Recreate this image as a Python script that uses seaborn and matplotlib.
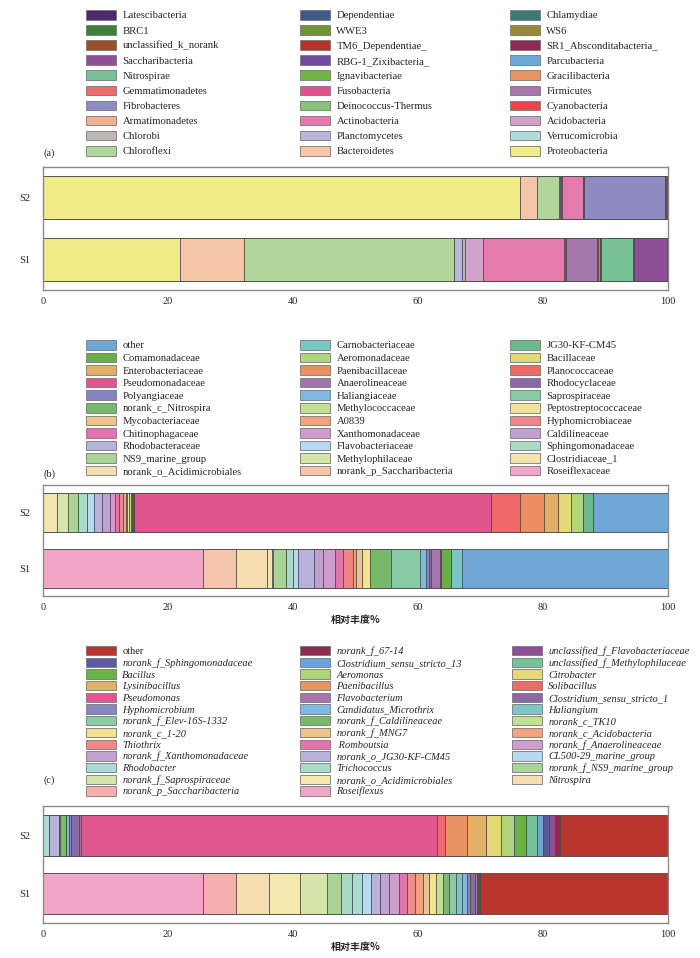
import numpy as np
import pandas as pd
import matplotlib.pyplot as plt
import seaborn as sns
from matplotlib.patches import Patch

W, H = 700, 958
SAMPLES = ["S2", "S1"]
EDGE = "#4a4a4a"

# ---- (a) phylum level, listed in stacking order (left -> right)
PHYLA = ["Proteobacteria", "Bacteroidetes", "Chloroflexi", "Verrucomicrobia", "Planctomycetes",
         "Chlorobi", "Acidobacteria", "Actinobacteria", "Armatimonadetes", "Cyanobacteria",
         "Deinococcus-Thermus", "Fibrobacteres", "Firmicutes", "Fusobacteria", "Gemmatimonadetes",
         "Gracilibacteria", "Ignavibacteriae", "Nitrospirae", "Parcubacteria", "RBG-1_Zixibacteria_",
         "Saccharibacteria", "SR1_Absconditabacteria_", "TM6_Dependentiae_", "unclassified_k_norank",
         "WS6", "WWE3", "BRC1", "Chlamydiae", "Dependentiae", "Latescibacteria"]
PHYLA_COLORS = ["#f0ec88", "#f6c6ab", "#b0d69c", "#aedcd9", "#bbb5dc",
                "#bdb5b3", "#d1a3cc", "#e57bac", "#f3b08f", "#e4474d",
                "#88c277", "#8d8cc2", "#a776ad", "#e3528f", "#ef6b6e",
                "#eb9462", "#72b544", "#78c29a", "#6aa9d8", "#6e4c9a",
                "#8e4f97", "#8c2a54", "#b53329", "#9a4f2c",
                "#978a36", "#6e9436", "#3f7f3c", "#3d7a72", "#3d5a8a", "#4b2a6e"]
PHYLA_S1 = [21.9, 10.2, 33.6, 0.1, 1.2, 0.6, 2.8, 13.0, 0.1, 0.1,
            0.05, 0.05, 5.0, 0.05, 0.4, 0.05, 0.05, 5.2, 0.03, 0.03,
            5.3, 0.02, 0.02, 0.02, 0.02, 0.02, 0.02, 0.02, 0.02, 0.02]
PHYLA_S2 = [76.3, 2.7, 3.6, 0.1, 0.15, 0.05, 0.2, 3.3, 0.05, 0.05,
            0.05, 13.0, 0.05, 0.05, 0.15, 0.02, 0.02, 0.02, 0.02, 0.02,
            0.02, 0.02, 0.05, 0.02, 0.02, 0.02, 0.02, 0.02, 0.02, 0.02]

# ---- (b) family level
FAMILIES = ["Roseiflexaceae", "norank_p_Saccharibacteria", "norank_o_Acidimicrobiales", "Clostridiaceae_1",
            "Methylophilaceae", "NS9_marine_group", "Sphingomonadaceae", "Flavobacteriaceae",
            "Rhodobacteraceae", "Caldilineaceae", "Xanthomonadaceae", "Chitinophagaceae",
            "Hyphomicrobiaceae", "A0839", "Mycobacteriaceae", "Peptostreptococcaceae",
            "Methylococcaceae", "norank_c_Nitrospira", "Saprospiraceae", "Haliangiaceae",
            "Polyangiaceae", "Rhodocyclaceae", "Anaerolineaceae", "Pseudomonadaceae",
            "Planococcaceae", "Paenibacillaceae", "Enterobacteriaceae", "Bacillaceae",
            "Aeromonadaceae", "Comamonadaceae", "JG30-KF-CM45", "Carnobacteriaceae", "other"]
FAMILY_COLORS = ["#f1a6c8", "#f6c5ab", "#f6deb3", "#f4e6ab",
                 "#d6e6ab", "#a9d495", "#a9dac6", "#b5daf1",
                 "#b9b3dc", "#c0a0cf", "#d09ccb", "#e674ac",
                 "#f08787", "#f3a27f", "#ebc489", "#f0e296",
                 "#c2df8f", "#77b96b", "#88c9a6", "#7fb9e0",
                 "#8585c0", "#8a68a6", "#a674ad", "#e05590",
                 "#ee6a6a", "#ec9064", "#e0b06a", "#e3d872",
                 "#b0d57a", "#6aae46", "#6cba8e", "#7cc5c5", "#6fa8d6"]
FAMILY_S1 = [25.6, 5.3, 5.0, 0.8, 0.1, 2.1, 1.1, 0.85, 2.55, 1.35, 1.95, 1.35,
             1.6, 0.45, 0.9, 1.3, 0.05, 3.3, 4.7, 1.0, 0.35, 0.35, 1.5, 0.05,
             0.02, 0.02, 0.02, 0.02, 0.02, 1.6, 0.05, 1.75, 32.9]
FAMILY_S2 = [0.02, 0.02, 0.02, 2.15, 1.85, 1.6, 1.35, 1.2, 1.2, 1.3, 0.8, 0.7,
             0.65, 0.35, 0.3, 0.3, 0.2, 0.2, 0.1, 0.08, 0.08, 0.08, 0.08, 57.0,
             4.7, 3.8, 2.3, 2.0, 1.9, 0.05, 1.55, 0.05, 12.0]

# ---- (c) genus level
GENERA = ["Roseiflexus", "norank_p_Saccharibacteria", "Nitrospira", "norank_o_Acidimicrobiales",
          "norank_f_Saprospiraceae", "norank_f_NS9_marine_group", "Trichococcus", "Rhodobacter",
          "CL500-29_marine_group", "norank_o_JG30-KF-CM45", "norank_f_Xanthomonadaceae",
          "norank_f_Anaerolineaceae", " Romboutsia", "Thiothrix", "norank_c_Acidobacteria",
          "norank_f_MNG7", "norank_c_1-20", "norank_c_TK10", "norank_f_Caldilineaceae",
          "norank_f_Elev-16S-1332", "Haliangium", "Candidatus_Microthrix", "Hyphomicrobium",
          "Clostridium_sensu_stricto_1", "Flavobacterium", "Pseudomonas", "Solibacillus",
          "Paenibacillus", "Lysinibacillus", "Citrobacter", "Aeromonas", "Bacillus",
          "unclassified_f_Methylophilaceae", "Clostridium_sensu_stricto_13",
          "norank_f_Sphingomonadaceae", "unclassified_f_Flavobacteriaceae", "norank_f_67-14", "other"]
GENUS_COLORS = ["#f1a6c8", "#f5b0ad", "#f6deb3", "#f4eab0",
                "#d6e6ab", "#a9d495", "#a9dac6", "#a9dcd6",
                "#b5daf1", "#b9b3dc", "#c1a2d0",
                "#d09ccb", "#e674ac", "#f38a8a", "#f3a27f",
                "#ebc489", "#efe38f", "#c3df8f", "#78bb6a",
                "#8acaa7", "#7ec6c6", "#80bae2", "#8787c2",
                "#8a69a6", "#a675ad", "#e15590", "#ef6a6a",
                "#eb9264", "#e1b06a", "#e4d877", "#b0d47a", "#6ab244",
                "#75c29b", "#6ba5d7",
                "#5a5aa0", "#8d4f98", "#8e2a4f", "#b8342c"]
GENUS_S1 = [25.6, 5.3, 5.2, 5.0, 4.3, 2.2, 1.8, 1.6, 1.4, 1.5, 1.5, 1.5, 1.4, 1.3, 1.25,
            0.95, 1.1, 1.05, 1.05, 1.1, 0.9, 0.8, 0.6, 0.7, 0.4, 0.05, 0.03, 0.03, 0.03,
            0.03, 0.03, 0.03, 0.05, 0.03, 0.03, 0.05, 0.03, 30.1]
GENUS_S2 = [0.01, 0.01, 0.01, 0.01, 0.01, 0.01, 0.01, 0.9, 0.05, 1.55, 0.01, 0.01, 0.01,
            0.01, 0.01, 0.01, 0.01, 0.01, 1.0, 0.05, 0.05, 0.4, 0.4, 1.2, 0.3, 57.0, 1.35,
            3.5, 3.05, 2.4, 2.05, 1.85, 1.75, 1.0, 0.9, 0.95, 0.85, 17.3]

sns.set_style("white")
plt.rcParams['font.family'] = ['Liberation Serif', 'Noto Sans CJK SC']

fig = plt.figure(figsize=(W / 100, H / 100), dpi=100)


def stacked_panel(rect, s1, s2, colors, xlabel):
    ax = fig.add_axes([rect[0] / W, 1 - rect[3] / H, (rect[2] - rect[0]) / W, (rect[3] - rect[1]) / H])
    cum = pd.DataFrame({"S1": np.cumsum(s1), "S2": np.cumsum(s2)})
    # draw cumulative bars from the widest to the narrowest so they stack
    for i in range(len(colors) - 1, -1, -1):
        df = pd.DataFrame({"sample": SAMPLES, "cum": [cum["S2"][i], cum["S1"][i]]})
        sns.barplot(data=df, x="cum", y="sample", order=SAMPLES, orient="h", color=colors[i],
                    saturation=1, width=0.7, edgecolor=EDGE, linewidth=0.6, errorbar=None, ax=ax)
    ax.set_xlim(0, 100)
    ax.set_ylim(1.5, -0.5)
    ax.set_xticks([0, 20, 40, 60, 80, 100])
    ax.tick_params(axis="x", direction="in", length=3, width=0.8, color="#777777",
                   pad=5, labelsize=7.5)
    ax.tick_params(axis="y", length=0, pad=9, labelsize=7.5)
    ax.set_ylabel("")
    if xlabel:
        ax.set_xlabel("相对丰度%", family=["Noto Sans CJK SC"], fontsize=7.2,
                      fontweight="bold", labelpad=2)
    else:
        ax.set_xlabel("")
    for sp in ax.spines.values():
        sp.set_visible(True)
        sp.set_color("#8a8a8a")
        sp.set_linewidth(1.0)
    return ax


def legend_block(names, colors, xs, y_top, spacing, fs, italic=False):
    leg_names = names[::-1]
    leg_colors = colors[::-1]
    for c, x in enumerate(xs):
        idx = list(range(c, len(leg_names), 3))
        handles = [Patch(facecolor=leg_colors[i], edgecolor="#777777", linewidth=0.6) for i in idx]
        labels = [leg_names[i] for i in idx]
        leg = fig.legend(handles, labels, loc="upper left", bbox_to_anchor=(x / W, 1 - y_top / H),
                         frameon=False, borderpad=0, borderaxespad=0, handlelength=30 / (fs * 100 / 72),
                         handleheight=1.0, handletextpad=0.6, labelspacing=spacing, fontsize=fs)
        if italic:
            for t in leg.get_texts():
                if t.get_text() != "other":
                    t.set_style("italic")


legend_block(PHYLA, PHYLA_COLORS, [86, 300, 510], 10, 0.436, 7.7)
fig.text(44 / W, 1 - 153 / H, "(a)", va="center", ha="left", fontsize=7.5)
stacked_panel((43, 167, 668, 290), PHYLA_S1, PHYLA_S2, PHYLA_COLORS, False)

legend_block(FAMILIES, FAMILY_COLORS, [86, 300, 510], 340, 0.2, 7.7)
fig.text(44 / W, 1 - 474 / H, "(b)", va="center", ha="left", fontsize=7.5)
stacked_panel((43, 485, 668, 596), FAMILY_S1, FAMILY_S2, FAMILY_COLORS, True)

legend_block(GENERA, GENUS_COLORS, [86, 300, 512], 646, 0.14, 7.5, italic=True)
fig.text(44 / W, 1 - 780 / H, "(c)", va="center", ha="left", fontsize=7.5)
stacked_panel((43, 806, 668, 923), GENUS_S1, GENUS_S2, GENUS_COLORS, True)

fig.savefig("out.png", dpi=100)
